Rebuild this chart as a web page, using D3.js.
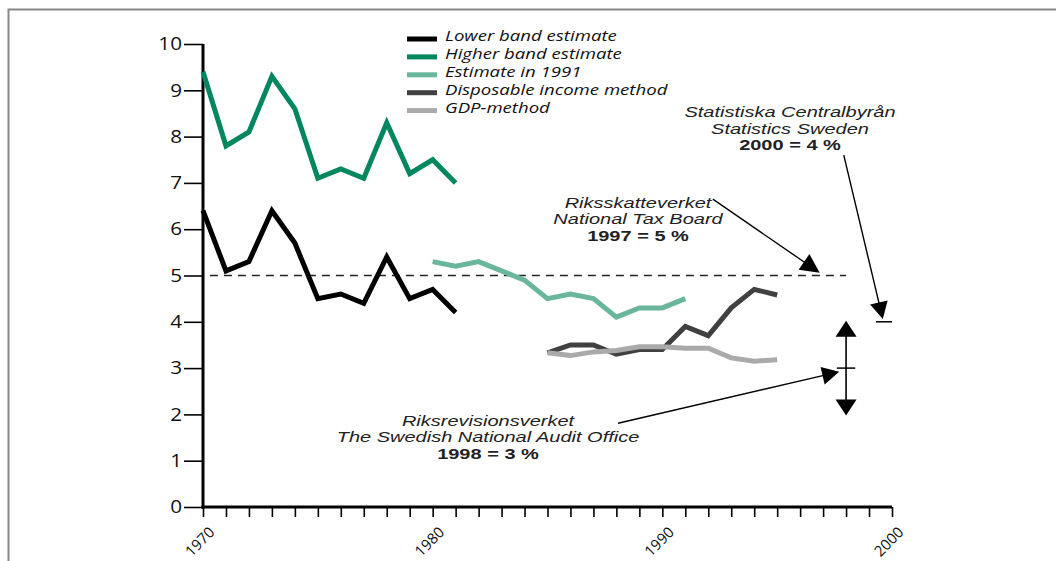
<!DOCTYPE html>
<html><head><meta charset="utf-8">
<script src="https://cdn.jsdelivr.net/npm/d3@7"></script>
<style>
body{margin:0;background:#fff;}
svg{display:block;font-family:"Open Sans",sans-serif;}
</style></head>
<body><svg id="c" width="1056" height="561"></svg>
<script>
// ---- data ----
const lowerYears  = [1970,1971,1972,1973,1974,1975,1976,1977,1978,1979,1980,1981];
const lowerBand   = [6.4,5.1,5.3,6.4,5.7,4.5,4.6,4.4,5.4,4.5,4.7,4.2];
const higherBand  = [9.4,7.8,8.1,9.3,8.6,7.1,7.3,7.1,8.3,7.2,7.5,7.0];
const est1991Years = [1980,1981,1982,1983,1984,1985,1986,1987,1988,1989,1990,1991];
const est1991      = [5.3,5.2,5.3,5.1,4.9,4.5,4.6,4.5,4.1,4.3,4.3,4.5];
const methodYears  = [1985,1986,1987,1988,1989,1990,1991,1992,1993,1994,1995];
const disposable   = [3.33,3.5,3.5,3.3,3.4,3.4,3.9,3.7,4.3,4.7,4.58];
const gdpMethod    = [3.33,3.27,3.35,3.38,3.46,3.46,3.43,3.43,3.22,3.15,3.18];
const seriesNames  = ["Lower band estimate","Higher band estimate","Estimate in 1991","Disposable income method","GDP-method"];
const seriesColors = ["#000000","#00875f","#6ab69c","#404040","#aaaaaa"];
const yTicks = [0,1,2,3,4,5,6,7,8,9,10];
const xLabelYears = [1970,1980,1990,2000];
const refLevel = 5;

const SX = 1.3;  // horizontal stretch of the reference's lettering (Open Sans)
const SX2 = 1.4; // same for the annotation blocks (Liberation Sans)

const svg = d3.select("#c");
const x = d3.scaleLinear().domain([1970,2000]).range([203,892]);
const y = d3.scaleLinear().domain([0,10]).range([507,44]);

// frame (top & left)
svg.append("path").attr("d","M8.5,561 L8.5,9.5 L1056,9.5").attr("fill","none")
  .attr("stroke","#888").attr("stroke-width",2);

// dashed reference line
svg.append("line").attr("x1",x(1970.3)).attr("x2",x(1998)).attr("y1",y(refLevel)).attr("y2",y(refLevel))
  .attr("stroke","#222").attr("stroke-width",1.3).attr("stroke-dasharray","8,6");

// axes
const yAxis = svg.append("g").attr("transform",`translate(${x(1970)},0)`)
  .call(d3.axisLeft(y).tickValues(yTicks).tickSize(19).tickPadding(2).tickFormat(d3.format("d")));
yAxis.select(".domain").remove();
yAxis.selectAll(".tick line").attr("stroke","#000").attr("stroke-width",1.6);
yAxis.selectAll(".tick text").attr("font-size",18).attr("fill","#111").attr("font-family","Open Sans")
  .each(function(){ const t=d3.select(this); const xv=+t.attr("x"); t.attr("x",0).attr("transform",`translate(${xv},0) scale(1.15,1)`); });
svg.append("line").attr("x1",x(1970)).attr("x2",x(1970)).attr("y1",y(10)).attr("y2",y(0)+1.5)
  .attr("stroke","#000").attr("stroke-width",3);

const years = d3.range(1970,2001);
const xAxis = svg.append("g").attr("transform",`translate(0,${y(0)})`)
  .call(d3.axisBottom(x).tickValues(years).tickSize(10).tickFormat(d => xLabelYears.includes(d) ? String(d) : ""));
xAxis.select(".domain").remove();
xAxis.selectAll(".tick line").attr("stroke","#000").attr("stroke-width",1.6);
xAxis.selectAll(".tick text").attr("font-size",15).attr("fill","#111").attr("font-family","Open Sans")
  .attr("text-anchor","end").attr("dy",0).attr("transform","translate(3,17) rotate(-45)");
svg.append("line").attr("x1",x(1970)-1.5).attr("x2",x(2000)).attr("y1",y(0)).attr("y2",y(0))
  .attr("stroke","#000").attr("stroke-width",3);

// series
const series = [
  {years: lowerYears, vals: lowerBand, c: seriesColors[0]},
  {years: lowerYears, vals: higherBand, c: seriesColors[1]},
  {years: est1991Years, vals: est1991, c: seriesColors[2]},
  {years: methodYears, vals: disposable, c: seriesColors[3]},
  {years: methodYears, vals: gdpMethod, c: seriesColors[4]},
];
const line = d3.line().x(d => x(d[0])).y(d => y(d[1]));
series.forEach(s => {
  svg.append("path").datum(s.years.map((yr,i)=>[yr,s.vals[i]]))
    .attr("d",line).attr("fill","none").attr("stroke",s.c).attr("stroke-width",5)
    .attr("stroke-linejoin","miter").attr("stroke-linecap","butt");
});

// legend
const lg = svg.append("g");
seriesNames.forEach((n,i) => {
  const yy = 39 + i*17.9;
  lg.append("line").attr("x1",407).attr("x2",437).attr("y1",yy).attr("y2",yy)
    .attr("stroke",seriesColors[i]).attr("stroke-width",5);
  lg.append("text").attr("transform",`translate(445,${yy+2.2}) scale(${SX},1)`)
    .attr("font-size",14.3).attr("font-style","italic").attr("fill","#111").text(n);
});

// annotations
function arrowHead(g, x1,y1,x2,y2,len,hw){
  const a = Math.atan2(y2-y1,x2-x1);
  const bx = x2 - len*Math.cos(a), by = y2 - len*Math.sin(a);
  const px = -Math.sin(a)*hw, py = Math.cos(a)*hw;
  g.append("path").attr("d",`M${x2},${y2}L${bx+px},${by+py}L${bx-px},${by-py}Z`).attr("fill","#000");
}
const ann = svg.append("g");
function arrow(from,to,len,hw){
  const x1=x(from[0]),y1=y(from[1]),x2=x(to[0]),y2=y(to[1]);
  const a=Math.atan2(y2-y1,x2-x1);
  ann.append("line").attr("x1",x1).attr("y1",y1).attr("x2",x2-len*0.6*Math.cos(a)).attr("y2",y2-len*0.6*Math.sin(a))
    .attr("stroke","#000").attr("stroke-width",1.4);
  arrowHead(ann,x1,y1,x2,y2,len,hw);
}
// National Tax Board
arrow([1992.2,6.65],[1996.85,5.06],19,9.5);
// Statistics Sweden
arrow([1997.9,7.6],[1999.6,4.06],17,9);
ann.append("line").attr("x1",x(1999.3)).attr("x2",x(2000)).attr("y1",y(4)).attr("y2",y(4)).attr("stroke","#000").attr("stroke-width",1.5);
// Audit office
arrow([1988.07,1.81],[1997.7,2.92],17,9);
ann.append("line").attr("x1",x(1997.6)).attr("x2",x(1998.4)).attr("y1",y(3)).attr("y2",y(3)).attr("stroke","#000").attr("stroke-width",1.5);
// double arrow 2..4 at 1998
ann.append("line").attr("x1",x(1998)).attr("x2",x(1998)).attr("y1",y(4)+10).attr("y2",y(2)-10).attr("stroke","#000").attr("stroke-width",1.6);
arrowHead(ann,x(1998),y(3),x(1998),y(4)-1,16,10.5);
arrowHead(ann,x(1998),y(3),x(1998),y(2)+1,16,10.5);

function label(lines, cx, by, gap){
  lines.forEach((l,i)=>{
    svg.append("text").attr("text-anchor","middle").attr("font-size",14.3).attr("fill","#222")
      .attr("font-family","Liberation Sans")
      .attr("transform",`translate(${cx},${by+i*gap}) scale(${SX2},1)`)
      .attr("font-style",l.b?"normal":"italic").attr("font-weight",l.b?"bold":"normal").text(l.t);
  });
}
label([{t:"Riksskatteverket"},{t:"National Tax Board"},{t:"1997 = 5 %",b:1}], 638, 207.5, 16.7);
label([{t:"Statistiska Centralbyrån"},{t:"Statistics Sweden"},{t:"2000 = 4 %",b:1}], 790, 117, 16.7);
label([{t:"Riksrevisionsverket"},{t:"The Swedish National Audit Office"},{t:"1998 = 3 %",b:1}], 488, 425.5, 16.7);
</script></body></html>
